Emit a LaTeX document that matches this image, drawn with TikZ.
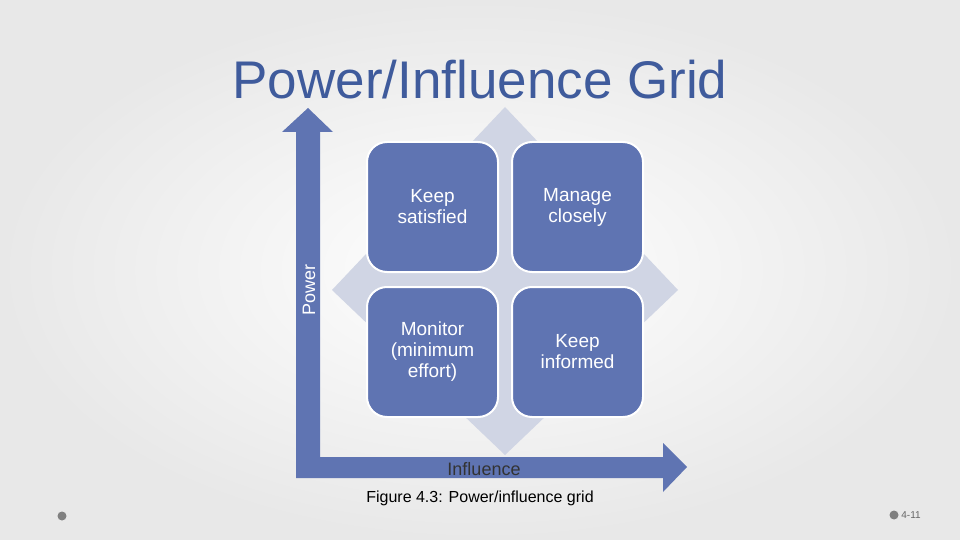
\documentclass[tikz,border=0pt]{standalone}
\usepackage{fontspec}
\setmainfont{Liberation Sans}
\begin{document}
\begin{tikzpicture}[x=1pt,y=-1pt,
  quad/.style={draw=white,line width=2pt,fill=boxblue,rounded corners=20pt,minimum width=131pt,minimum height=130pt},
  qtext/.style={text=white,font=\fontsize{19}{21}\selectfont,align=center},
  axis/.style={fill=boxblue}]
\definecolor{boxblue}{HTML}{5F74B2}
\definecolor{diam}{HTML}{D0D5E4}
\definecolor{titleblue}{HTML}{3F5B9C}
\shade[inner color=white,outer color=gray!18] (0,0) rectangle (960,540);
\useasboundingbox (0,0) rectangle (960,540);
% title
\node (title) [text=titleblue,font=\fontsize{53}{55}\selectfont] at (480,80) {Power/Influence Grid};
% diamond
\fill[diam] (505,107) -- (678,290) -- (505,455) -- (332,290) -- cycle;
% axes
\fill[axis] (296,478) -- (296,132) -- (282,132) -- (308,108) -- (333,132) -- (320,132) -- (320,457) -- (663,457) -- (663,443) -- (687,467) -- (663,492) -- (663,478) -- cycle;
% boxes
\node (ks) [quad] at (432.5,207) {};
\node (mc) [quad] at (577.5,207) {};
\node (mo) [quad] at (432.5,352) {};
\node (ki) [quad] at (577.5,352) {};
\node[qtext] at (ks) {Keep\\satisfied};
\node[qtext] at (mc) {Manage\\closely};
\node[qtext] at (mo) {Monitor\\(minimum\\effort)};
\node[qtext] at (ki) {Keep\\informed};
% labels
\node (pw) [rotate=90,text=white,font=\fontsize{18}{20}\selectfont] at (309,290) {Power};
\node (inf) [text=black!80,font=\fontsize{18}{20}\selectfont] at (484,469) {Influence};
\node (cap) [font=\fontsize{16}{18}\selectfont] at (480,498) {Figure 4.3: Power/influence grid};
\fill[gray] (62,516) circle (4.5);
\fill[gray] (894,515) circle (4.5);
\node (pg) [text=gray!80!black,font=\fontsize{10}{12}\selectfont] at (911,515) {4-11};
\end{tikzpicture}
\end{document}
